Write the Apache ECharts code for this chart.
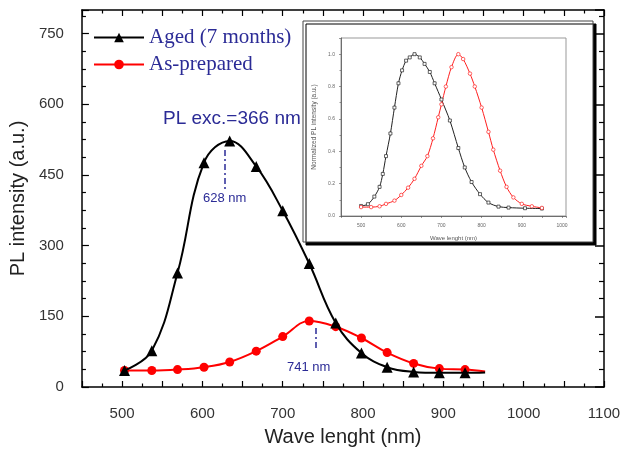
<!DOCTYPE html>
<html>
<head>
<meta charset="utf-8">
<script src="https://cdn.jsdelivr.net/npm/echarts@6/dist/echarts.min.js"></script>
<style>html,body{margin:0;padding:0;background:#fff}#c{width:629px;height:452px}</style>
</head>
<body>
<div id="c"></div>
<script>
// ---- main chart data ----
const waveX   = [503, 537, 569, 602, 634, 667, 700, 733, 766, 798, 830, 863, 895, 927, 952];
const agedY   = [35, 77, 242, 476, 522, 468, 374, 262, 136, 72, 42, 32, 30, 30, 31];
const prepY   = [35, 35, 37, 42, 53, 76, 107, 140, 128, 104, 73, 50, 39, 37, 33];
const xTicks  = [500, 600, 700, 800, 900, 1000, 1100];
const yTicks  = [0, 150, 300, 450, 600, 750];

// ---- inset (normalized) data ----
const insetAgedX = [500,517,533,546,554,562,573,583,593,602,612,621,633,646,658,671,683,700,721,742,758,775,796,817,842,867,908,950];
const insetAgedY = [0.062,0.073,0.12,0.18,0.26,0.37,0.51,0.67,0.82,0.90,0.96,0.98,1.00,0.98,0.94,0.89,0.82,0.72,0.59,0.42,0.30,0.21,0.135,0.083,0.058,0.052,0.048,0.046];
const insetPrepX = [500,525,546,562,583,600,617,633,650,665,679,692,700,711,725,742,754,771,783,800,817,829,846,862,879,900,925,950];
const insetPrepY = [0.055,0.055,0.06,0.075,0.095,0.13,0.175,0.23,0.31,0.37,0.48,0.61,0.69,0.80,0.92,1.00,0.97,0.88,0.80,0.67,0.52,0.41,0.28,0.18,0.115,0.075,0.06,0.05];

// annotation positions (data coordinates)
const peakAged = 628, peakPrep = 741;

const navy = '#2b2b96';
const sans = 'Liberation Sans';

function mainData(ys) {
  return waveX.map((x, i) => i === waveX.length - 1 ? {value: [x, ys[i]], symbol: 'none'} : [x, ys[i]]);
}

const chart = echarts.init(document.getElementById('c'));
const axisCommon = {
  axisLine: {show: true, onZero: false, lineStyle: {color: '#000', width: 1.5}},
  splitLine: {show: false}
};
chart.setOption({
  animation: false,
  backgroundColor: '#fff',
  grid: [
    {left: 79, right: 25, top: 10, bottom: 60},
    {left: 341, top: 38, width: 225, height: 178, show: true, borderColor: '#999', borderWidth: 1, z: 5}
  ],
  legend: {
    data: ['Aged (7 months)', 'As-prepared'],
    orient: 'vertical', left: 88, top: 22, itemWidth: 50, itemHeight: 12, itemGap: 6,
    textStyle: {fontFamily: 'Liberation Serif', fontSize: 21, color: navy}
  },
  xAxis: [
    Object.assign({}, axisCommon, {
      type: 'value', gridIndex: 0, position: 'bottom', min: 450, max: 1100, interval: 50,
      axisTick: {inside: true, length: 6, lineStyle: {color: '#000', width: 1.2}},
      minorTick: {show: true, splitNumber: 2, length: 3.5, lineStyle: {color: '#000', width: 1.2}},
      axisLabel: {margin: 19, fontFamily: sans, fontSize: 15, color: '#333',
        formatter: v => xTicks.indexOf(v) >= 0 ? String(v) : ''},
      name: 'Wave lenght (nm)', nameLocation: 'middle', nameGap: 40,
      nameTextStyle: {fontFamily: sans, fontSize: 20, color: '#222'}
    }),
    Object.assign({}, axisCommon, {
      type: 'value', gridIndex: 0, position: 'top', min: 450, max: 1100, interval: 50,
      axisTick: {inside: true, length: 6, lineStyle: {color: '#000', width: 1.2}},
      minorTick: {show: true, splitNumber: 2, length: 3.5, lineStyle: {color: '#000', width: 1.2}},
      axisLabel: {show: false}
    }),
    {
      type: 'value', gridIndex: 1, min: 450, max: 1010, interval: 50, z: 6,
      axisLine: {show: true, onZero: false, lineStyle: {color: '#555', width: 0.8}},
      axisTick: {show: true, length: 2, lineStyle: {color: '#555', width: 0.6}},
      splitLine: {show: false},
      axisLabel: {margin: 7, fontFamily: sans, fontSize: 5, color: '#666',
        formatter: v => (v % 100 === 0 && v <= 1000) ? String(v) : ''},
      name: 'Wave lenght (nm)', nameLocation: 'middle', nameGap: 19,
      nameTextStyle: {fontFamily: sans, fontSize: 6, color: '#555'}
    }
  ],
  yAxis: [
    Object.assign({}, axisCommon, {
      type: 'value', gridIndex: 0, position: 'left', min: 0, max: 800, interval: 150,
      axisTick: {inside: true, length: 7, lineStyle: {color: '#000', width: 1.2}},
      minorTick: {show: true, splitNumber: 4, length: 4, lineStyle: {color: '#000', width: 1.2}},
      axisLabel: {margin: 18, fontFamily: sans, fontSize: 15, color: '#333', showMaxLabel: false,
        formatter: v => yTicks.indexOf(v) >= 0 ? String(v) : ''},
      name: 'PL intensity (a.u.)', nameLocation: 'middle', nameGap: 50,
      nameTextStyle: {fontFamily: sans, fontSize: 20, color: '#222'}
    }),
    Object.assign({}, axisCommon, {
      type: 'value', gridIndex: 0, position: 'right', min: 0, max: 800, interval: 150,
      axisTick: {inside: true, length: 9, lineStyle: {color: '#000', width: 1.5}},
      minorTick: {show: true, splitNumber: 4, length: 5, lineStyle: {color: '#000', width: 1.2}},
      axisLabel: {show: false}
    }),
    {
      type: 'value', gridIndex: 1, min: 0, max: 1.1, interval: 0.2, z: 6,
      axisLine: {show: true, onZero: false, lineStyle: {color: '#555', width: 0.8}},
      axisTick: {show: true, length: 2, lineStyle: {color: '#555', width: 0.6}},
      minorTick: {show: true, splitNumber: 2, length: 1.5, lineStyle: {color: '#555', width: 0.6}},
      splitLine: {show: false},
      axisLabel: {margin: 6, fontFamily: sans, fontSize: 5, color: '#666', showMaxLabel: false,
        formatter: v => v.toFixed(1)},
      name: 'Normalized PL intensity (a.u.)', nameLocation: 'middle', nameGap: 23,
      nameTextStyle: {fontFamily: sans, fontSize: 6.5, color: '#555'}
    }
  ],
  graphic: [
    {type: 'rect', z: 1, shape: {x: 303, y: 21, width: 290, height: 221},
     style: {fill: '#fff', stroke: '#444', lineWidth: 1, shadowColor: '#000', shadowOffsetX: 3, shadowOffsetY: 3, shadowBlur: 0}},
    {type: 'text', z: 10, left: 163, top: 109, style: {text: 'PL exc.=366 nm', fontFamily: sans, fontSize: 19, fill: navy}},
    {type: 'text', z: 10, left: 203, top: 192, style: {text: '628 nm', fontFamily: sans, fontSize: 13, fill: navy}},
    {type: 'text', z: 10, left: 287, top: 361, style: {text: '741 nm', fontFamily: sans, fontSize: 13, fill: navy}}
  ],
  series: [
    {
      name: 'Aged (7 months)', type: 'line', xAxisIndex: 0, yAxisIndex: 0, smooth: 0.4,
      data: mainData(agedY), symbol: 'triangle', symbolSize: 11,
      lineStyle: {color: '#000', width: 2}, itemStyle: {color: '#000'}, z: 3,
      markLine: {
        silent: true, symbol: 'none', label: {show: false},
        lineStyle: {color: navy, width: 1.5, type: [6, 3, 2, 3]},
        data: [
          [{coord: [peakAged, 503]}, {coord: [peakAged, 420]}],
          [{coord: [peakPrep, 125]}, {coord: [peakPrep, 77]}]
        ]
      }
    },
    {
      name: 'As-prepared', type: 'line', xAxisIndex: 0, yAxisIndex: 0, smooth: 0.4,
      data: mainData(prepY), symbol: 'circle', symbolSize: 9,
      lineStyle: {color: '#ff0000', width: 2}, itemStyle: {color: '#ff0000'}, z: 2
    },
    {
      name: 'inset aged', type: 'line', xAxisIndex: 2, yAxisIndex: 2, smooth: 0.3, z: 7,
      data: insetAgedX.map((x, i) => [x, insetAgedY[i]]), symbol: 'rect', symbolSize: 3,
      lineStyle: {color: '#222', width: 1}, itemStyle: {color: '#fff', borderColor: '#222', borderWidth: 0.7}
    },
    {
      name: 'inset prepared', type: 'line', xAxisIndex: 2, yAxisIndex: 2, smooth: 0.3, z: 7,
      data: insetPrepX.map((x, i) => [x, insetPrepY[i]]), symbol: 'circle', symbolSize: 3.5,
      lineStyle: {color: '#ff2020', width: 1}, itemStyle: {color: '#fff', borderColor: '#ff2020', borderWidth: 0.7}
    }
  ]
});
</script>
</body>
</html>
